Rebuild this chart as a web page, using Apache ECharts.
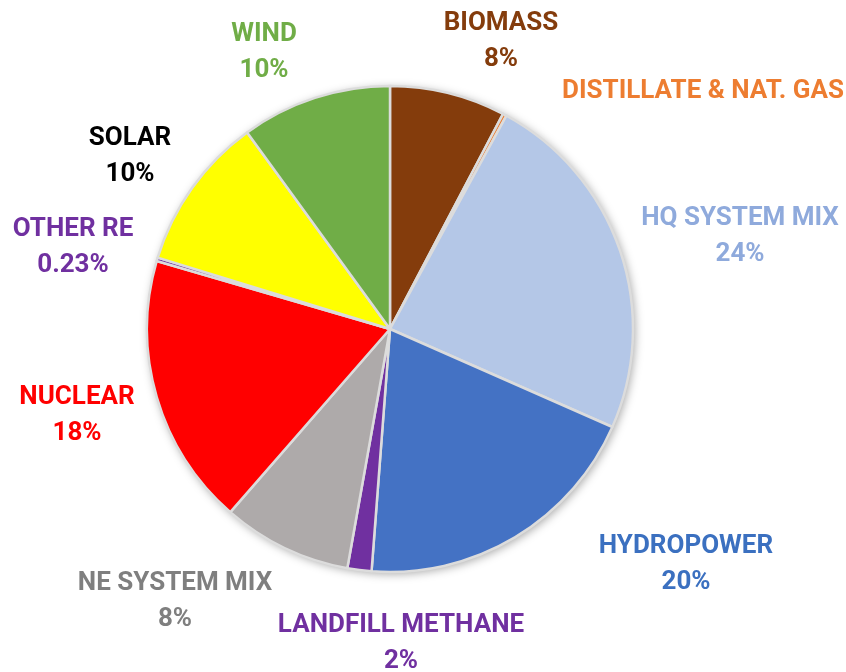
<!DOCTYPE html>
<html>
<head>
<meta charset="utf-8">
<script src="https://cdn.jsdelivr.net/npm/echarts@6/dist/echarts.min.js"></script>
<style>
    html, body { margin: 0; padding: 0; background: #fff; }
    #main { width: 846px; height: 672px; }
</style>
</head>
<body>
<div id="main"></div>
<script>
// slices, clockwise from 12 o'clock
var sources = ['BIOMASS', 'DISTILLATE & NAT. GAS', 'HQ SYSTEM MIX', 'HYDROPOWER', 'LANDFILL METHANE',
    'NE SYSTEM MIX', 'NUCLEAR', 'OTHER RE', 'SOLAR', 'WIND'];
var shares = [7.7, 0.25, 23.65, 19.6, 1.6, 8.6, 18.1, 0.23, 10.25, 10.0];
// percentages as printed on the chart
var shownPct = ['8%', '', '24%', '20%', '2%', '8%', '18%', '0.23%', '10%', '10%'];

var sliceColors = ['#843C0C', '#ED7D31', '#B4C7E7', '#4472C4', '#7030A0',
    '#AEAAAA', '#FF0000', '#7030A0', '#FFFF00', '#70AD47'];
var textColors = ['#843C0C', '#ED7D31', '#8FAADC', '#3B70C0', '#7030A0',
    '#7F7F7F', '#FF0000', '#7030A0', '#000000', '#70AD47'];
// label block centres (layout only)
var labelPos = [[501, 41], [703, 91], [740, 236], [686, 564], [401, 643],
    [175, 601], [77, 415], [73, 247], [130, 156], [264, 52]];

var chart = echarts.init(document.getElementById('main'));

var pieData = sources.map(function (name, i) {
    return {
        name: name,
        value: shares[i],
        itemStyle: { color: sliceColors[i] },
        label: { color: textColors[i] }
    };
});

var option = {
    backgroundColor: '#ffffff',
    animation: false,
    series: [
        {
            // soft shadow under the pie
            type: 'pie',
            silent: true,
            center: [390, 329],
            radius: [0, 243],
            label: { show: false },
            labelLine: { show: false },
            itemStyle: {
                color: '#ffffff',
                shadowBlur: 10,
                shadowColor: 'rgba(0,0,0,0.35)',
                shadowOffsetX: 2,
                shadowOffsetY: 2
            },
            data: [{ value: 1 }]
        },
        {
            type: 'pie',
            center: [390, 329],
            radius: [0, 243],
            startAngle: 90,
            clockwise: true,
            avoidLabelOverlap: false,
            minAngle: 0,
            itemStyle: {
                borderColor: '#dcdcdc',
                borderWidth: 2.5
            },
            label: {
                show: true,
                position: 'outside',
                fontFamily: 'Roboto',
                fontWeight: 'bold',
                fontSize: 26,
                lineHeight: 36,
                align: 'center',
                formatter: function (p) {
                    var pct = shownPct[p.dataIndex];
                    return pct ? p.name + '\n' + pct : p.name;
                }
            },
            labelLine: { show: false },
            labelLayout: function (params) {
                var p = labelPos[params.dataIndex];
                return {
                    x: p[0],
                    y: p[1],
                    align: 'center',
                    verticalAlign: 'middle',
                    hideOverlap: false
                };
            },
            data: pieData
        }
    ]
};

chart.setOption(option);
</script>
</body>
</html>
